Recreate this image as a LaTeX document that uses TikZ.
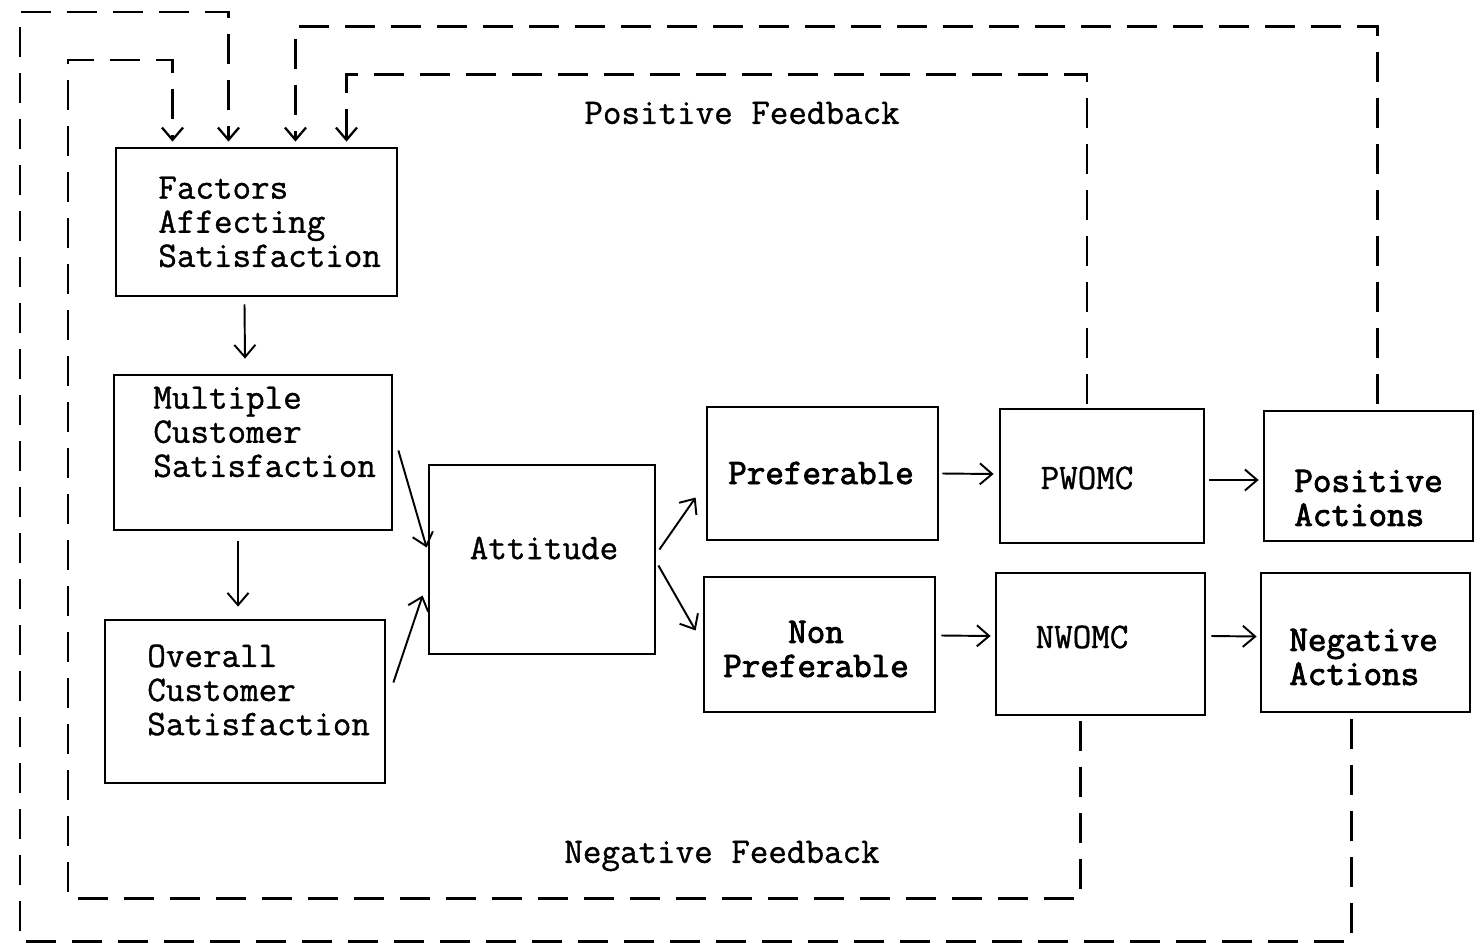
\documentclass[tikz,border=0pt]{standalone}
\usepackage{fontspec}
\newfontfamily\typed{Latin Modern Mono}[FakeBold=1]
\newfontfamily\typedbold{Latin Modern Mono}[FakeBold=2.4]
\usetikzlibrary{positioning, calc, arrows.meta}
\tikzset{
    stage box/.style={draw, rectangle, line width=1.6pt, inner sep=0pt},
    stage text/.style={font=\typed\fontsize{20.5}{19.4}\selectfont, align=left, inner sep=0pt},
    heavy text/.style={stage text, font=\typedbold\fontsize{20.5}{19.4}\selectfont},
    flow arrow/.style={line width=1.1pt, -{Straight Barb[length=7pt,width=12pt]}},
    feedback line/.style={line width=1.3pt, dash pattern=on 0.6cm off 0.32cm,
        -{Straight Barb[length=7pt,width=12pt]}},
}

\begin{document}
\begin{tikzpicture}[x=0.02cm, y=-0.02cm]
\useasboundingbox (0,0) rectangle (1476,950);

% boxes
\node[stage box, minimum width=5.62cm, minimum height=2.96cm] (fac) at (256.5,222) {};
\node[stage box, minimum width=5.56cm, minimum height=3.10cm] (mult) at (253,452.5) {};
\node[stage box, minimum width=5.60cm, minimum height=3.26cm] (over) at (245,701.5) {};
\node[stage box, minimum width=4.52cm, minimum height=3.78cm] (att) at (542,559.5) {};
\node[stage box, minimum width=4.62cm, minimum height=2.66cm] (pref) at (822.5,473.5) {};
\node[stage box, minimum width=4.62cm, minimum height=2.70cm] (npref) at (819.5,644.5) {};
\node[stage box, minimum width=4.08cm, minimum height=2.68cm] (pwomc) at (1102,476) {};
\node[stage box, minimum width=4.18cm, minimum height=2.84cm] (nwomc) at (1100.5,644) {};
\node[stage box, minimum width=4.18cm, minimum height=2.60cm] (posact) at (1368.5,476) {};
\node[stage box, minimum width=4.18cm, minimum height=2.78cm] (negact) at (1365.5,642.5) {};

% texts
\node[stage text, anchor=west] (facT) at (158,222) {Factors\\Affecting\\Satisfaction};
\node[stage text, anchor=west] (multT) at (153,432) {Multiple\\Customer\\Satisfaction};
\node[stage text, anchor=west] (overT) at (147,690) {Overall\\Customer\\Satisfaction};
\node[stage text] (attT) at (544,548) {Attitude};
\node[heavy text] (prefT) at (821,473) {Preferable};
\node[heavy text, align=center] (nprefT) at (816,649) {Non\\Preferable};
\node[stage text] (pwomcT) at (1087,478) {PWOMC};
\node[stage text] (nwomcT) at (1082,637) {NWOMC};
\node[heavy text, anchor=west] (posactT) at (1294,498) {Positive\\Actions};
\node[heavy text, anchor=west] (negactT) at (1289,657) {Negative\\Actions};
\node[stage text] (posfb) at (742,113) {Positive Feedback};
\node[stage text] (negfb) at (722,856) {Negative Feedback};

% forward arrows
\draw[flow arrow] ($(fac.south)+(-12,7)$) -- ($(mult.north)+(-8,-15)$);
\draw[flow arrow] ($(mult.south)+(-15,10)$) -- ($(over.north)+(-7,-12)$);
\draw[flow arrow] ($(mult.east)+(5,-2)$) -- ($(att.west)+(-1,-12)$);
\draw[flow arrow] ($(over.east)+(7,-19)$) -- ($(att.west)+(-5,36)$);
\draw[flow arrow] ($(att.east)+(3,-10)$) -- ($(pref.west)+(-10,24)$);
\draw[flow arrow] ($(att.east)+(2,6)$) -- ($(npref.west)+(-7,-14)$);
\draw[flow arrow] ($(pref.east)+(3,0)$) -- ($(pwomc.west)+(-5,-2)$);
\draw[flow arrow] ($(npref.east)+(5,-9)$) -- ($(nwomc.west)+(-4,-8)$);
\draw[flow arrow] ($(pwomc.east)+(4,4)$) -- ($(posact.west)+(-4,4)$);
\draw[flow arrow] ($(nwomc.east)+(5,-8)$) -- ($(negact.west)+(-3,-6)$);

% feedback loops
\draw[feedback line] ($(negact.south)+(-14,6)$) -- ++(0,222) -| (20,12) -| ($(fac.north)+(-28,-5)$);
\draw[feedback line] ($(posact.north)+(9,-6)$) -- ++(0,-377) -| ($(fac.north)+(39,-5)$);
\draw[feedback line] ($(pwomc.north)+(-15,-4)$) -- ++(0,-329) -| ($(fac.north)+(90,-5)$);
\draw[feedback line] ($(nwomc.south)+(-20,5)$) -- ++(0,177) -| (68,60) -| ($(fac.north)+(-84,-5)$);
\end{tikzpicture}
\end{document}
